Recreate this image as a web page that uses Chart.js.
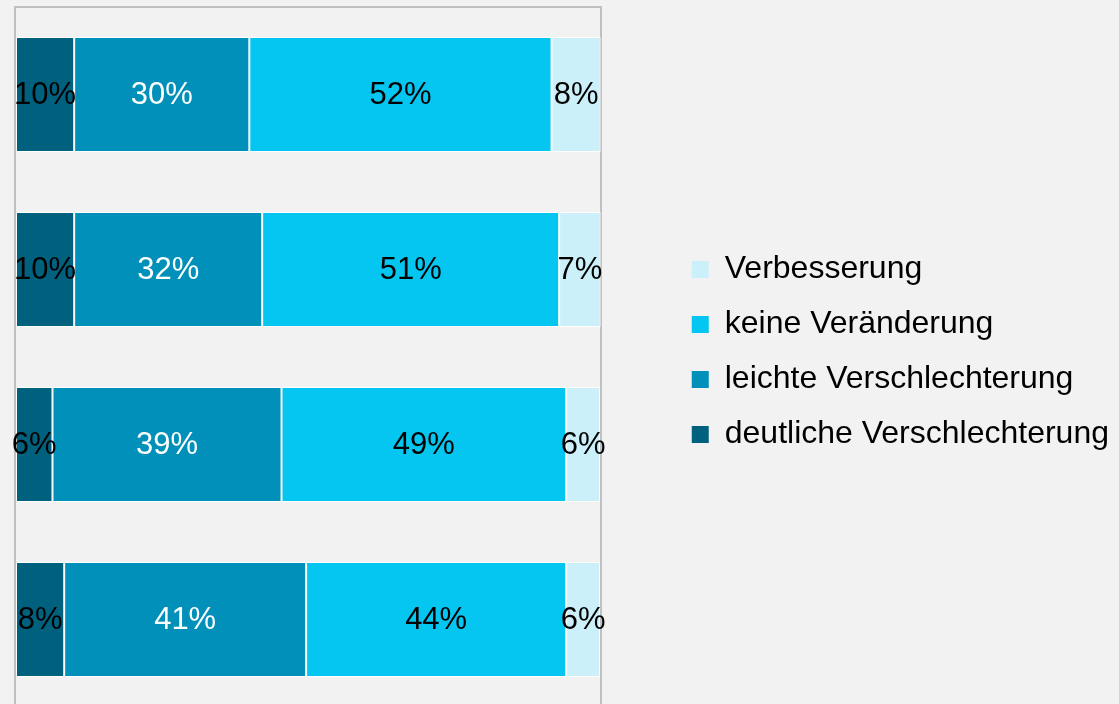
<!DOCTYPE html>
<html lang="de">
<head>
<meta charset="utf-8">
<title>Veränderung</title>
<script src="https://cdn.jsdelivr.net/npm/chart.js@4.4.1/dist/chart.umd.min.js"></script>
<style>
  html, body { margin:0; padding:0; background:#f2f2f2; overflow:hidden; }
  #wrap { width:1119px; height:704px; overflow:hidden; }
</style>
</head>
<body>
<div id="wrap"><canvas id="chart" width="1119" height="707"></canvas></div>
<script>
// ---- data ----
const rows = ['Gruppe 1', 'Gruppe 2', 'Gruppe 3', 'Gruppe 4'];
const deutlich = [10.1, 10.1, 6.4, 8.4];
const leicht   = [29.9, 32.1, 39.1, 41.3];
const keine    = [51.6, 50.7, 48.6, 44.4];
const besser   = [8.4, 7.1, 5.8, 5.8];
const seriesNames = ['deutliche Verschlechterung', 'leichte Verschlechterung', 'keine Veränderung', 'Verbesserung'];
const axisTicks = [0, 100];

const COLORS = ['#00617e', '#0090b9', '#05c6f0', '#ccf0fa'];
const LABEL_COLORS = ['#000', '#fff', '#000', '#000'];
const FONT = "'Liberation Sans', Arial, sans-serif";

// simple value labels in the middle of each segment
const segLabels = {
  id: 'segLabels',
  afterDatasetsDraw(chart){
    const ctx = chart.ctx;
    ctx.save();
    ctx.font = `31px ${FONT}`;
    ctx.textAlign = 'center';
    ctx.textBaseline = 'middle';
    chart.data.datasets.forEach((ds, di) => {
      const meta = chart.getDatasetMeta(di);
      meta.data.forEach((bar, i) => {
        const v = ds.data[i];
        ctx.fillStyle = LABEL_COLORS[di];
        ctx.fillText(Math.round(v) + '%', (bar.x + bar.base) / 2, bar.y + 1);
      });
    });
    ctx.restore();
  }
};

// nudge the legend block up a little
const legendNudge = {
  id: 'legendNudge',
  afterLayout(chart){
    if(!chart.legend) return;
    chart.legend.top -= 5;
    chart.legend.bottom -= 5;
  }
};

const values = [deutlich, leicht, keine, besser];

new Chart(document.getElementById('chart'), {
  type: 'bar',
  data: {
    labels: rows,
    datasets: values.map((d, i) => ({
      label: seriesNames[i],
      data: d,
      backgroundColor: COLORS[i],
      borderColor: '#ffffff',
      borderWidth: 1,
      borderSkipped: false,
      categoryPercentage: 1,
      barPercentage: 0.657
    }))
  },
  options: {
    indexAxis: 'y',
    responsive: false,
    animation: false,
    layout: { padding: { top: 7, left: 15, right: 0, bottom: 0 } },
    scales: {
      x: {
        position: 'top',
        stacked: true,
        min: 0, max: 100,
        afterBuildTicks(scale){ scale.ticks = axisTicks.map(v => ({ value: v })); },
        ticks: { display: false },
        grid: { color: '#c0c0c0', lineWidth: 2, drawTicks: false },
        border: { display: true, color: '#c0c0c0', width: 2 }
      },
      y: {
        stacked: true,
        display: false
      },
      gap: {
        type: 'linear',
        position: 'right',
        display: true,
        ticks: { display: false },
        grid: { display: false, drawTicks: false },
        border: { display: false },
        afterFit(scale){ scale.width = 68; }
      }
    },
    plugins: {
      tooltip: { enabled: false },
      legend: {
        position: 'right',
        align: 'center',
        reverse: true,
        maxWidth: 600,
        labels: {
          font: { family: FONT, size: 32 },
          color: '#000',
          boxWidth: 17,
          boxHeight: 17,
          padding: 23,
          generateLabels(chart){
            return Chart.defaults.plugins.legend.labels.generateLabels(chart)
              .map(l => Object.assign(l, { lineWidth: 0, strokeStyle: l.fillStyle }));
          }
        }
      }
    }
  },
  plugins: [segLabels, legendNudge]
});
</script>
</body>
</html>
